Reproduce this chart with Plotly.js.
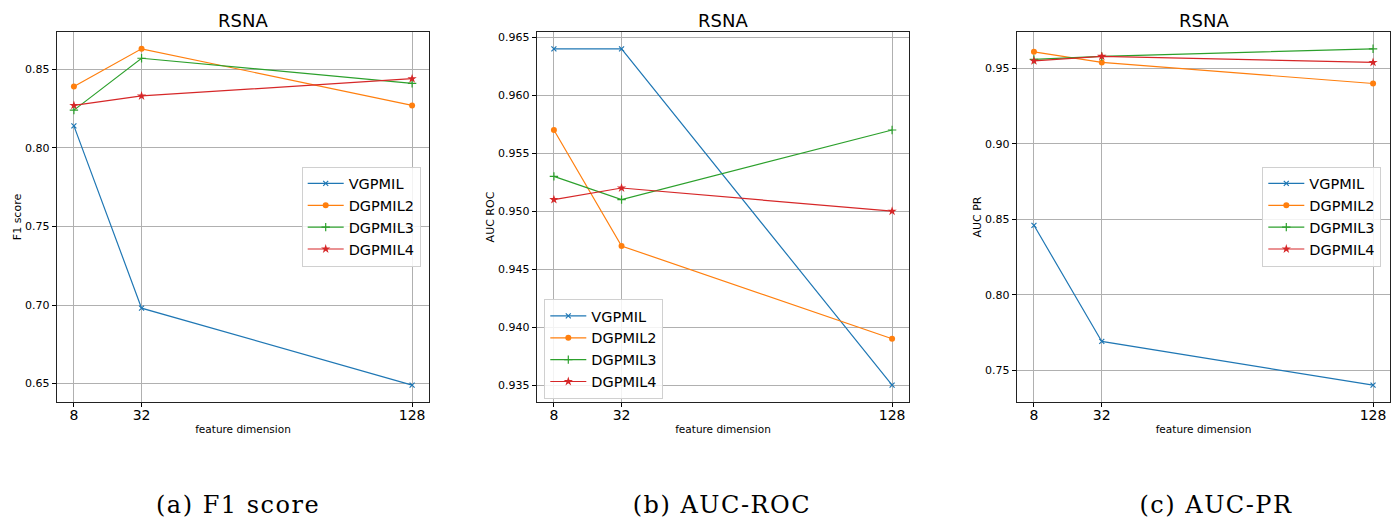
<!DOCTYPE html>
<html>
<head>
<meta charset="utf-8">
<script src="https://cdn.plot.ly/plotly-3.0.1.min.js"></script>
<style>html,body{margin:0;padding:0;background:#fff;}#chart{width:1391px;height:519px;}</style>
</head>
<body>
<div id="chart"></div>
<script>
// ---- data ----
const featureDims = [8, 32, 128];
const seriesNames = ["VGPMIL", "DGPMIL2", "DGPMIL3", "DGPMIL4"];

const f1VGPMIL  = [0.814, 0.698, 0.649];
const f1DGPMIL2 = [0.839, 0.863, 0.827];
const f1DGPMIL3 = [0.824, 0.857, 0.841];
const f1DGPMIL4 = [0.827, 0.833, 0.844];

const rocVGPMIL  = [0.964, 0.964, 0.935];
const rocDGPMIL2 = [0.957, 0.947, 0.939];
const rocDGPMIL3 = [0.953, 0.951, 0.957];
const rocDGPMIL4 = [0.951, 0.952, 0.950];

const prVGPMIL  = [0.846, 0.769, 0.740];
const prDGPMIL2 = [0.961, 0.954, 0.940];
const prDGPMIL3 = [0.956, 0.958, 0.963];
const prDGPMIL4 = [0.955, 0.958, 0.954];

const panelTitle = "RSNA";
const xTitle = "feature dimension";
const yTitles = ["F1 score", "AUC ROC", "AUC PR"];
const captions = ["(a) F1 score", "(b) AUC-ROC", "(c) AUC-PR"];

// ---- styling ----
const colors = ["#1f77b4", "#ff7f0e", "#2ca02c", "#d62728"];
const W = 1391, H = 519;
const plotTop = 32, plotBottom = 402;
const xDomPx = [[57, 429], [537, 909], [1017, 1390]];
const legendPos = [[301.7, 166.5], [544.3, 299], [1262.3, 166.5]];
const captionX = [238, 722, 1216];

function markerFor(i, color) {
  if (i === 0) return {symbol: "x-thin", size: 5, color: color, line: {color: color, width: 1.2}};
  if (i === 1) return {symbol: "circle", size: 6, color: color, line: {width: 0}};
  if (i === 2) return {symbol: "cross-thin", size: 6, color: color, line: {color: color, width: 1.2}};
  return {symbol: "star", size: 7, color: color, line: {width: 0}};
}

const panels = [
  [f1VGPMIL, f1DGPMIL2, f1DGPMIL3, f1DGPMIL4],
  [rocVGPMIL, rocDGPMIL2, rocDGPMIL3, rocDGPMIL4],
  [prVGPMIL, prDGPMIL2, prDGPMIL3, prDGPMIL4]
];

const traces = [];
panels.forEach((series, p) => {
  series.forEach((vals, i) => {
    traces.push({
      x: featureDims, y: vals, type: "scatter", mode: "lines+markers",
      name: seriesNames[i],
      xaxis: p === 0 ? "x" : "x" + (p + 1),
      yaxis: p === 0 ? "y" : "y" + (p + 1),
      legend: p === 0 ? "legend" : "legend" + (p + 1),
      line: {color: colors[i], width: 1.2},
      marker: markerFor(i, colors[i]),
      showlegend: true
    });
  });
});

const yDomain = [1 - plotBottom / H, 1 - plotTop / H];
const layout = {
  width: W, height: H,
  margin: {l: 0, r: 0, t: 0, b: 0},
  paper_bgcolor: "#fff", plot_bgcolor: "#fff",
  font: {family: "DejaVu Sans", color: "#000"},
  showlegend: true,
  annotations: []
};

panels.forEach((series, p) => {
  const sx = p === 0 ? "" : String(p + 1);
  const all = [].concat(...series);
  const mn = Math.min(...all), mx = Math.max(...all);
  const pad = (mx - mn) * 0.05;
  const xmn = Math.min(...featureDims), xmx = Math.max(...featureDims);
  const xpad = (xmx - xmn) * 0.05;
  layout["xaxis" + sx] = {
    domain: [xDomPx[p][0] / W, xDomPx[p][1] / W],
    anchor: "y" + sx,
    range: [xmn - xpad, xmx + xpad],
    tickvals: featureDims, ticktext: featureDims.map(String),
    ticks: "outside", ticklen: 4, tickwidth: 1, tickcolor: "#000",
    ticklabelstandoff: -4,
    tickfont: {size: 14, family: "DejaVu Sans", color: "#000"},
    showgrid: true, gridcolor: "#b0b0b0", gridwidth: 1,
    zeroline: false, showline: true, mirror: true, linecolor: "#222", linewidth: 1.2,
    title: {text: xTitle, font: {size: 10.5, family: "DejaVu Sans", color: "#000"}, standoff: 3},
    automargin: false, fixedrange: true
  };
  layout["yaxis" + sx] = {
    domain: yDomain,
    anchor: "x" + sx,
    range: [mn - pad, mx + pad],
    dtick: p === 1 ? 0.005 : 0.05,
    tickformat: p === 1 ? ".3f" : ".2f",
    ticks: "outside", ticklen: 4, tickwidth: 1, tickcolor: "#000",
    tickfont: {size: 11, family: "DejaVu Sans", color: "#000"},
    showgrid: true, gridcolor: "#b0b0b0", gridwidth: 1,
    zeroline: false, showline: true, mirror: true, linecolor: "#222", linewidth: 1.2,
    title: {text: yTitles[p], font: {size: 11, family: "DejaVu Sans", color: "#000"}, standoff: 1},
    automargin: false, fixedrange: true
  };
  const lk = p === 0 ? "legend" : "legend" + (p + 1);
  layout[lk] = {
    x: legendPos[p][0] / W, y: 1 - legendPos[p][1] / H,
    xanchor: "left", yanchor: "top",
    bgcolor: "rgba(255,255,255,0.85)", bordercolor: "#d0d0d0", borderwidth: 1,
    font: {size: 14.5, family: "DejaVu Sans", color: "#000"},
    itemwidth: 36, tracegroupgap: 0
  };
  const cx = (xDomPx[p][0] + xDomPx[p][1]) / 2;
  layout.annotations.push({
    text: panelTitle, xref: "paper", yref: "paper",
    x: cx / W, y: 1 - 20 / H, xanchor: "center", yanchor: "middle",
    showarrow: false, font: {size: 18, family: "DejaVu Sans", color: "#000"}
  });
  layout.annotations.push({
    text: captions[p], xref: "paper", yref: "paper",
    x: captionX[p] / W, y: 1 - 505 / H, xanchor: "center", yanchor: "middle",
    showarrow: false, font: {size: 24, family: "DejaVu Serif", color: "#000"}
  });
});

Plotly.newPlot("chart", traces, layout, {staticPlot: true, displayModeBar: false}).then(gd => {
  gd.querySelectorAll(".annotation-text").forEach(t => {
    if (captions.includes(t.textContent)) t.style.letterSpacing = "1.5px";
  });
});
</script>
</body>
</html>
